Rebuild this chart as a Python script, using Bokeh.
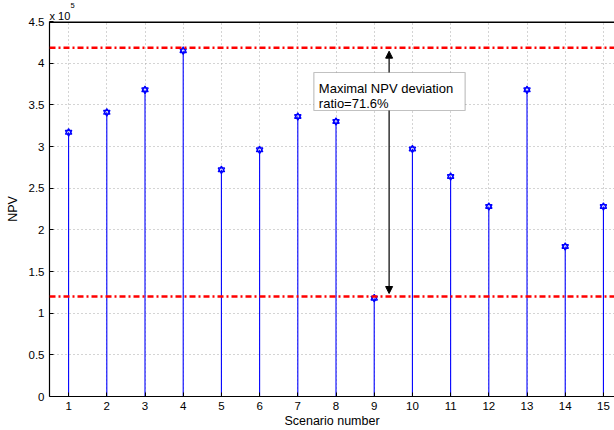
from bokeh.plotting import figure
from bokeh.models import Range1d, FixedTicker, Span, Arrow, NormalHead, BoxAnnotation, Label, Title
from bokeh.embed import file_html
from bokeh.resources import INLINE

# ---- data ----
scenarios = [1, 2, 3, 4, 5, 6, 7, 8, 9, 10, 11, 12, 13, 14, 15]
npv = [317000, 341000, 368000, 415000, 272000, 296000, 336000, 330000,
       118000, 297000, 264000, 228000, 368000, 180000, 228000]
max_line = 418500
min_line = 120000
y_ticks = [0, 50000, 100000, 150000, 200000, 250000, 300000, 350000, 400000, 450000]
y_tick_labels = ["0", "0.5", "1", "1.5", "2", "2.5", "3", "3.5", "4", "4.5"]
note_lines = ["Maximal NPV deviation", "ratio=71.6%"]

FONT = "Liberation Sans"
BLUE = "#0000ff"

p = figure(width=614, height=430,
           x_range=Range1d(0.5, 15.29), y_range=Range1d(0, 450000),
           output_backend="svg", toolbar_location=None,
           min_border_left=49, min_border_right=0, min_border_top=21, min_border_bottom=34)
p.outline_line_color = None
p.background_fill_color = "white"

# exponent label (as stacked titles above the frame)
p.add_layout(Title(text="x 10", align="left", offset=0, standoff=0, text_font=FONT,
                   text_font_size="11px", text_font_style="normal", text_color="black"), "above")
p.add_layout(Title(text="5", align="left", offset=21, standoff=0, text_font=FONT,
                   text_font_size="7.5px", text_font_style="normal", text_color="black"), "above")

# axes
p.xaxis.ticker = FixedTicker(ticks=scenarios)
p.yaxis.ticker = FixedTicker(ticks=y_ticks)
p.yaxis.major_label_overrides = {t: s for t, s in zip(y_ticks, y_tick_labels)}
for ax in (p.xaxis[0], p.yaxis[0]):
    ax.major_tick_in = 4
    ax.major_tick_out = 0
    ax.minor_tick_line_color = None
    ax.axis_line_color = "black"
    ax.axis_line_width = 1.2
    ax.major_tick_line_color = "black"
    ax.major_label_text_font = FONT
    ax.major_label_text_font_size = "11.5px"
    ax.major_label_text_color = "black"
    ax.axis_label_text_font = FONT
    ax.axis_label_text_font_size = "12.5px"
    ax.axis_label_text_font_style = "normal"
    ax.axis_label_text_color = "black"
p.xaxis.axis_label = "Scenario number"
p.yaxis.axis_label = "NPV"
p.xaxis.major_label_standoff = 5
p.xaxis.axis_label_standoff = 1
p.yaxis.major_label_standoff = 5
p.yaxis.axis_label_standoff = 6

# grid
for g in (p.xgrid[0], p.ygrid[0]):
    g.grid_line_color = "#a8a8a8"
    g.grid_line_dash = "1 3"
    g.grid_line_width = 1

# top border of the box
p.add_layout(Span(location=450000, dimension="width", line_color="black", line_width=3))

# reference lines
for loc in (max_line, min_line):
    p.add_layout(Span(location=loc, dimension="width", line_color="#ff0000",
                      line_width=2.5, line_dash="6 3 2 3"))

# stems and markers
zeros = [0] * len(scenarios)
p.segment(x0=scenarios, y0=zeros, x1=scenarios, y1=npv, line_color=BLUE, line_width=1.1)
p.scatter(scenarios, npv, marker="triangle", size=6.5, line_color=BLUE, fill_color=None, line_width=1.2)
p.scatter(scenarios, npv, marker="inverted_triangle", size=6.5, line_color=BLUE, fill_color=None, line_width=1.2)

# double arrow
p.add_layout(Arrow(start=NormalHead(size=7, fill_color="black", line_color="black", line_width=1),
                   end=NormalHead(size=7, fill_color="black", line_color="black", line_width=1),
                   x_start=9.39, y_start=123600, x_end=9.39, y_end=414400,
                   line_color="black", line_width=1.2))

# annotation box
p.add_layout(BoxAnnotation(left=7.42, right=11.38, top=388800, bottom=343200,
                           fill_color="white", fill_alpha=1.0,
                           line_color="#333333", line_width=1.2))
p.add_layout(Label(x=7.55, y=369600, text=note_lines[0], text_font=FONT,
                   text_font_size="13px", text_color="black", text_baseline="alphabetic"))
p.add_layout(Label(x=7.55, y=352200, text=note_lines[1], text_font=FONT,
                   text_font_size="13px", text_color="black", text_baseline="alphabetic"))

open("out.html", "w").write(file_html(p, INLINE))
